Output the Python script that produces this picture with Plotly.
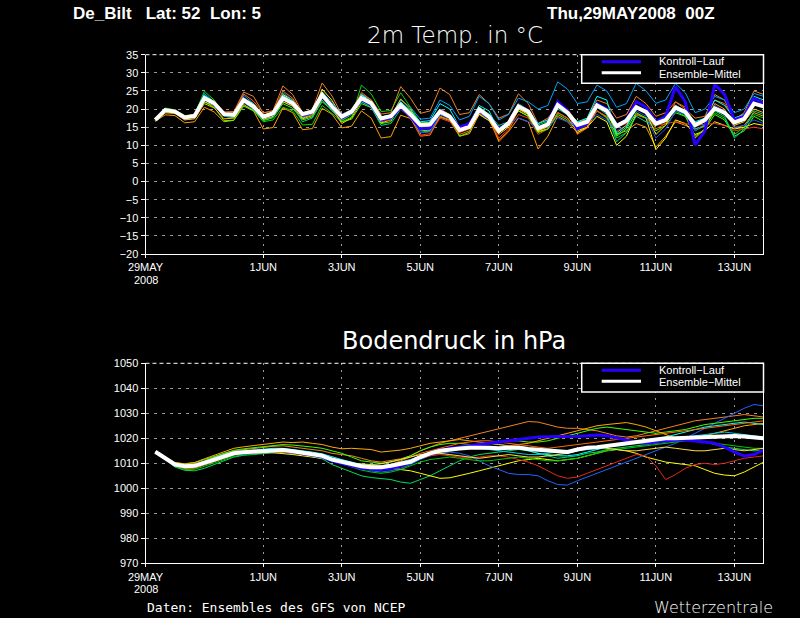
import pandas as pd
import plotly.graph_objects as go

W, H = 800, 618

# ---------------- data ----------------
times = pd.date_range("2008-05-29 06:00", periods=63, freq="6h")

tick_dates = ["2008-05-29", "2008-06-01", "2008-06-03", "2008-06-05", "2008-06-07",
              "2008-06-09", "2008-06-11", "2008-06-13"]
tick_text = ["29MAY", "1JUN", "3JUN", "5JUN", "7JUN", "9JUN", "11JUN", "13JUN"]
year_label = "2008"

temp_mean = [17.0, 19.7, 19.3,
             17.7, 18.1, 23.0, 21.6,
             18.6, 18.4, 22.5, 20.7,
             17.9, 18.8, 23.0, 21.6,
             18.6, 19.3, 23.9, 20.7,
             17.9, 19.3, 23.0, 21.6,
             17.4, 18.0, 21.1, 18.5,
             15.6, 15.8, 19.3, 17.9,
             14.2, 15.1, 19.9, 17.9,
             14.0, 16.1, 20.7, 19.3,
             14.7, 15.8, 21.1, 19.0,
             15.6, 16.5, 21.0, 19.5,
             15.3, 16.8, 20.5, 19.2,
             16.0, 17.0, 20.4, 19.2,
             15.6, 17.0, 20.2, 19.0,
             16.3, 17.3, 21.5, 20.7]

temp_control = [17.0, 19.6, 19.3,
                17.6, 18.0, 22.8, 21.4,
                18.4, 18.3, 22.3, 20.5,
                17.8, 18.6, 22.8, 21.4,
                18.4, 19.2, 23.6, 20.5,
                17.6, 19.0, 22.6, 21.2,
                17.0, 17.6, 20.5, 18.0,
                14.5, 14.8, 19.5, 18.0,
                15.0, 16.0, 20.0, 18.0,
                14.5, 16.0, 21.0, 19.5,
                15.0, 16.0, 22.0, 19.5,
                14.5, 16.0, 21.5, 20.0,
                15.5, 17.0, 22.0, 20.5,
                16.5, 18.0, 26.2, 22.0,
                10.1, 14.0, 26.8, 24.0,
                17.0, 18.0, 23.0, 21.5]

temp_m01 = [17.0, 20.3, 19.8, 18.2, 18.5, 24.9, 22.5, 18.0, 17.6, 21.0, 19.8,
            16.5, 17.0, 20.5, 19.5, 15.6, 15.8, 21.0, 18.8, 16.5, 17.8, 26.6, 24.2,
            19.3, 19.6, 24.5, 20.5, 16.2, 16.4, 19.0, 17.5, 14.0, 14.6, 18.5, 16.8,
            13.5, 15.5, 21.5, 19.8, 15.6, 16.6, 20.5, 19.0, 16.5, 17.0, 19.5, 17.5,
            12.0, 13.5, 18.5, 17.6, 16.4, 17.0, 19.5, 18.0, 14.0, 15.5, 19.0, 17.5,
            13.0, 15.0, 18.5, 17.5]
temp_m02 = [16.8, 19.4, 19.6, 18.0, 18.6, 22.8, 22.0, 19.2, 19.3, 24.7, 23.5,
            18.9, 19.6, 26.4, 24.0, 19.0, 19.8, 27.2, 23.6, 18.5, 19.8, 24.0, 22.6,
            18.6, 19.0, 26.2, 23.0, 18.8, 19.5, 25.8, 24.0, 18.5, 19.0, 24.0, 21.5,
            17.5, 18.6, 24.2, 21.5, 16.0, 17.5, 21.0, 20.0, 16.0, 17.5, 22.5, 21.5,
            17.5, 18.5, 23.5, 21.5, 18.0, 19.0, 22.0, 20.0, 17.5, 18.0, 24.0, 22.5,
            17.0, 19.0, 25.0, 24.0]
temp_m03 = [16.6, 18.4, 18.2, 16.2, 16.5, 20.5, 19.2, 16.5, 16.9, 21.3, 19.5,
            14.5, 14.9, 20.3, 19.0, 14.3, 14.6, 20.2, 18.6, 14.8, 15.3, 19.5, 17.5,
            12.0, 12.4, 18.3, 17.4, 13.5, 14.0, 17.8, 16.8, 12.5, 13.2, 18.6, 17.5,
            11.0, 13.8, 17.5, 16.5, 9.0, 12.5, 18.0, 16.5, 13.5, 14.8, 19.5, 17.8,
            13.0, 14.0, 16.0, 15.0, 9.5, 12.5, 16.5, 15.5, 14.5, 15.2, 21.5, 20.0,
            14.8, 15.5, 19.0, 18.0]
temp_m04 = [16.8, 19.0, 19.0, 17.5, 17.8, 22.0, 21.0, 18.2, 18.5, 23.0, 21.5,
            18.2, 19.3, 24.0, 22.5, 17.5, 18.6, 25.5, 22.4, 17.8, 19.5, 24.0, 22.0,
            16.2, 17.0, 21.5, 19.0, 15.0, 15.2, 18.5, 17.6, 14.6, 15.6, 20.5, 18.5,
            13.5, 15.5, 19.5, 18.0, 13.8, 14.5, 19.0, 17.5, 14.0, 15.0, 18.0, 16.5,
            10.0, 12.5, 18.5, 17.5, 8.8, 12.0, 17.0, 16.0, 13.0, 14.0, 16.5, 15.5,
            14.5, 15.0, 16.0, 15.5]
temp_m05 = [16.9, 19.6, 19.4, 17.8, 18.2, 23.5, 21.8, 18.8, 18.6, 22.8, 21.0,
            17.5, 18.5, 22.6, 21.0, 18.0, 19.0, 23.0, 20.0, 17.0, 18.8, 22.5, 21.0,
            16.5, 17.0, 20.5, 18.0, 12.8, 13.2, 17.5, 16.5, 13.5, 14.5, 19.0, 17.5,
            12.0, 14.5, 18.5, 17.5, 13.0, 14.5, 19.0, 17.5, 14.5, 15.5, 19.5, 18.0,
            15.0, 16.0, 18.5, 17.5, 15.5, 16.0, 16.5, 16.0, 15.5, 15.8, 16.0, 15.5,
            14.0, 14.5, 15.0, 14.5]
temp_m06 = [17.0, 19.9, 19.5, 17.8, 18.3, 24.3, 22.0, 18.5, 18.0, 23.8, 21.5,
            17.8, 18.6, 24.5, 22.5, 18.8, 19.5, 24.8, 21.8, 18.5, 19.8, 24.2, 22.4,
            17.8, 18.3, 22.5, 20.5, 17.2, 17.5, 22.5, 21.0, 17.0, 18.0, 23.5, 21.5,
            17.0, 18.5, 23.0, 22.0, 20.0, 21.0, 27.5, 25.5, 21.5, 22.0, 26.6, 25.0,
            20.5, 21.5, 27.1, 25.0, 21.6, 22.5, 27.1, 24.5, 19.0, 20.0, 23.5, 22.5,
            19.0, 20.0, 24.3, 23.5]
temp_m07 = [17.0, 20.0, 19.2, 17.2, 17.4, 22.0, 20.5, 16.8, 16.9, 20.8, 19.5,
            16.8, 17.6, 21.5, 20.2, 17.0, 17.8, 22.0, 19.8, 16.5, 17.2, 21.5, 20.4,
            16.0, 16.5, 21.8, 19.5, 14.0, 14.2, 19.5, 18.5, 12.5, 13.6, 19.5, 18.0,
            14.5, 16.5, 19.5, 18.0, 13.5, 14.5, 18.5, 17.0, 14.0, 15.8, 21.0, 19.8,
            12.5, 14.5, 19.0, 17.5, 14.0, 15.5, 19.0, 18.0, 12.5, 14.5, 18.5, 17.0,
            12.5, 14.0, 18.0, 16.5]
temp_m08 = [17.0, 19.5, 19.1, 17.4, 17.9, 23.8, 22.0, 18.0, 17.8, 21.8, 20.0,
            17.0, 17.8, 22.0, 20.8, 16.5, 17.5, 22.5, 19.5, 16.8, 18.5, 22.0, 20.5,
            15.5, 16.0, 20.0, 17.8, 13.5, 13.8, 18.0, 17.0, 15.0, 15.8, 20.5, 18.6,
            15.5, 16.5, 20.5, 18.8, 15.0, 15.5, 20.0, 18.5, 15.5, 16.5, 20.5, 18.5,
            11.0, 13.5, 18.0, 16.5, 15.5, 16.5, 20.0, 18.5, 14.5, 15.5, 19.5, 18.0,
            12.0, 14.5, 19.5, 18.5]
temp_m09 = [16.9, 19.8, 19.7, 18.0, 18.5, 23.5, 22.2, 19.0, 18.9, 24.2, 22.2,
            19.0, 19.4, 25.0, 23.0, 18.8, 19.5, 24.6, 21.2, 17.5, 19.2, 24.6, 22.5,
            17.0, 17.6, 20.0, 17.5, 12.5, 12.8, 18.0, 17.0, 13.0, 14.0, 19.0, 17.0,
            11.5, 14.0, 20.0, 18.5, 14.0, 15.0, 21.5, 19.5, 13.0, 14.8, 20.5, 19.0,
            15.0, 16.5, 21.0, 19.5, 14.5, 16.0, 22.0, 20.5, 15.0, 16.5, 22.5, 21.5,
            17.5, 18.5, 23.0, 22.0]
temp_m10 = [17.0, 19.3, 19.0, 17.0, 17.5, 22.5, 21.0, 18.3, 18.2, 23.2, 21.0,
            17.8, 18.6, 23.5, 22.0, 17.8, 18.5, 23.5, 20.4, 17.5, 18.8, 23.3, 21.5,
            16.8, 17.3, 21.0, 18.5, 13.5, 13.7, 18.5, 17.4, 14.5, 15.4, 19.0, 17.0,
            15.0, 16.0, 17.5, 16.5, 14.5, 15.0, 17.5, 16.5, 15.0, 16.0, 18.5, 17.0,
            14.0, 15.5, 19.5, 18.0, 12.0, 14.5, 19.5, 18.5, 14.0, 16.0, 21.0, 19.5,
            15.0, 15.5, 17.0, 16.0]
temp_m11 = [16.7, 19.0, 18.8, 17.0, 17.3, 21.5, 20.3, 17.3, 17.5, 22.0, 20.5,
            17.2, 18.0, 22.0, 20.8, 17.3, 18.2, 23.0, 20.3, 16.0, 17.6, 22.2, 21.0,
            17.2, 17.8, 22.8, 20.0, 15.5, 15.7, 20.0, 18.5, 14.0, 15.0, 18.5, 16.8,
            13.0, 15.0, 20.0, 18.5, 14.0, 15.2, 21.0, 19.0, 13.5, 15.0, 21.5, 20.0,
            13.5, 15.5, 20.5, 19.0, 13.0, 15.5, 21.0, 19.5, 12.0, 14.5, 20.0, 18.5,
            15.5, 16.5, 20.0, 19.0]
temp_m12 = [16.9, 19.7, 19.4, 17.6, 17.9, 23.7, 21.9, 18.4, 18.2, 22.0, 20.4,
            18.3, 19.0, 23.8, 22.0, 18.2, 19.1, 23.5, 20.5, 18.0, 19.5, 23.8, 22.0,
            17.8, 18.4, 22.0, 19.5, 16.5, 16.8, 21.5, 20.0, 15.0, 16.0, 21.0, 19.5,
            14.0, 16.0, 20.5, 19.5, 16.0, 17.0, 21.0, 19.5, 16.5, 17.5, 23.5, 22.5,
            13.0, 15.0, 20.5, 19.5, 16.0, 17.0, 21.0, 19.5, 16.5, 17.5, 22.5, 21.0,
            17.5, 18.5, 23.5, 22.5]

pres_mean = [1014.6, 1012.0, 1009.5, 1008.8, 1009.0, 1010.2, 1011.6, 1013.0, 1014.0, 1014.4,
             1014.7, 1015.0, 1015.3, 1015.3, 1014.8, 1014.3, 1013.6, 1013.0, 1011.5, 1010.6,
             1009.8, 1008.8, 1008.4, 1008.4, 1009.0, 1009.7, 1010.6, 1012.5, 1014.0, 1015.0,
             1015.6, 1015.9, 1016.2, 1016.4, 1016.2, 1016.0, 1016.2, 1016.3, 1015.7, 1015.4,
             1015.2, 1014.6, 1014.5, 1015.5, 1016.2, 1016.4, 1016.9, 1017.5, 1018.0, 1018.6,
             1019.2, 1019.6, 1020.0, 1020.0, 1020.2, 1020.5, 1020.6, 1020.6, 1020.8, 1020.9,
             1020.7, 1020.3, 1020.0]

pres_control = [1014.6, 1012.0, 1009.5, 1008.7, 1008.9, 1010.0, 1011.4, 1012.8, 1013.8, 1014.2,
                1014.5, 1014.8, 1015.0, 1015.0, 1014.5, 1014.0, 1013.2, 1012.5, 1011.0, 1010.0,
                1009.0, 1008.0, 1007.6, 1007.5, 1008.0, 1009.0, 1010.5, 1012.5, 1014.0, 1015.2,
                1016.0, 1016.5, 1017.0, 1017.5, 1018.0, 1018.5, 1019.0, 1019.5, 1020.0, 1020.5,
                1020.6, 1020.6, 1020.5, 1020.8, 1021.0, 1021.3, 1021.0, 1020.0, 1019.3, 1018.5,
                1018.0, 1018.5, 1019.0, 1019.3, 1019.3, 1019.0, 1018.5, 1018.0, 1016.5, 1014.6,
                1012.9, 1013.5, 1015.3]

pres_m01 = [1014.8, 1011.5, 1008.5, 1007.2, 1007.0, 1008.0, 1009.5, 1011.2, 1012.5, 1013.2,
            1013.6, 1014.0, 1014.3, 1014.5, 1014.0, 1013.5, 1012.6, 1011.8, 1009.5, 1008.0,
            1006.5, 1005.0, 1004.3, 1004.0, 1003.5, 1002.5, 1002.0, 1003.5, 1005.0, 1007.0,
            1009.0, 1011.0, 1012.5, 1013.5, 1014.0, 1014.5, 1015.0, 1015.5, 1015.0, 1014.0,
            1013.0, 1012.0, 1012.5, 1013.0, 1014.0, 1014.5, 1015.5, 1016.0, 1016.5, 1017.0,
            1017.5, 1018.0, 1018.5, 1019.0, 1019.5, 1019.0, 1018.5, 1017.5, 1016.5, 1016.0,
            1015.5, 1015.0, 1015.0]
pres_m02 = [1014.5, 1012.3, 1010.0, 1009.5, 1009.8, 1011.0, 1012.5, 1014.0, 1015.0, 1015.5,
            1016.0, 1016.4, 1016.8, 1017.0, 1016.5, 1016.0, 1015.4, 1015.0, 1014.0, 1013.5,
            1013.0, 1012.0, 1011.0, 1010.5, 1011.0, 1011.8, 1013.0, 1015.0, 1016.5, 1018.0,
            1019.0, 1020.0, 1021.0, 1022.0, 1023.0, 1024.0, 1025.0, 1026.0, 1026.7, 1026.5,
            1025.5, 1024.5, 1024.0, 1024.0, 1023.5, 1023.0, 1022.0, 1021.0, 1020.5, 1021.0,
            1022.0, 1023.0, 1024.0, 1025.0, 1026.0, 1027.0, 1027.5, 1028.0, 1028.5, 1029.0,
            1029.5, 1029.0, 1028.5]
pres_m03 = [1014.6, 1011.8, 1009.0, 1008.5, 1009.0, 1010.5, 1012.0, 1013.3, 1014.2, 1014.6,
            1014.8, 1014.6, 1014.3, 1014.0, 1013.5, 1013.0, 1012.5, 1012.0, 1011.0, 1010.5,
            1010.0, 1009.5, 1009.0, 1008.5, 1008.0, 1007.5, 1007.0, 1006.0, 1005.0, 1004.0,
            1004.2, 1005.0, 1006.0, 1007.0, 1008.0, 1009.0, 1010.0, 1011.0, 1011.5, 1012.0,
            1011.5, 1011.0, 1011.5, 1012.0, 1013.0, 1014.0, 1015.0, 1015.5, 1015.0, 1014.0,
            1012.5, 1011.5, 1010.5, 1010.0, 1009.5, 1009.0, 1007.5, 1006.0, 1005.3, 1005.0,
            1006.5, 1008.5, 1010.5]
pres_m04 = [1014.7, 1012.2, 1009.8, 1009.0, 1009.3, 1010.5, 1012.0, 1013.4, 1014.3, 1014.7,
            1015.0, 1015.2, 1015.5, 1015.5, 1015.0, 1014.5, 1013.8, 1013.0, 1011.8, 1010.8,
            1009.5, 1008.0, 1007.0, 1006.5, 1007.0, 1008.0, 1009.5, 1011.5, 1013.0, 1014.0,
            1014.5, 1014.0, 1013.0, 1011.0, 1009.0, 1007.5, 1006.0, 1005.5, 1005.5, 1005.0,
            1003.0, 1001.5, 1001.3, 1003.0, 1004.5, 1006.0, 1007.5, 1009.0, 1010.5, 1012.0,
            1013.5, 1015.0, 1016.5, 1018.0, 1020.0, 1022.0, 1024.0, 1026.0, 1028.0, 1030.0,
            1032.0, 1033.5, 1033.0]
pres_m05 = [1014.5, 1011.9, 1009.2, 1008.0, 1008.2, 1009.5, 1011.0, 1012.5, 1013.5, 1014.0,
            1014.3, 1014.6, 1014.8, 1014.8, 1014.3, 1013.8, 1013.0, 1012.3, 1011.0, 1010.0,
            1009.3, 1008.5, 1008.0, 1008.0, 1008.5, 1009.5, 1010.5, 1012.0, 1013.0, 1013.5,
            1013.0, 1012.5, 1012.0, 1012.5, 1013.0, 1013.0, 1012.5, 1011.5, 1010.5, 1009.0,
            1007.0, 1005.0, 1004.0, 1004.5, 1006.0, 1007.5, 1009.0, 1010.5, 1012.0, 1013.5,
            1013.0, 1009.0, 1003.5, 1005.5, 1008.0, 1009.5, 1010.0, 1009.5, 1010.0, 1011.0,
            1012.0, 1012.5, 1013.0]
pres_m06 = [1014.6, 1012.1, 1009.6, 1009.0, 1009.5, 1010.8, 1012.2, 1013.6, 1014.6, 1015.0,
            1015.4, 1015.8, 1016.0, 1016.0, 1015.6, 1015.0, 1014.5, 1013.8, 1012.5, 1011.5,
            1010.5, 1009.5, 1009.0, 1009.0, 1009.6, 1010.5, 1011.5, 1013.0, 1014.5, 1015.5,
            1016.0, 1016.5, 1017.0, 1017.5, 1018.0, 1017.5, 1017.0, 1016.0, 1015.0, 1014.0,
            1013.5, 1013.0, 1013.0, 1013.5, 1014.5, 1015.5, 1016.5, 1017.5, 1018.0, 1018.5,
            1019.0, 1019.5, 1020.5, 1021.5, 1022.5, 1023.5, 1024.5, 1025.0, 1025.5, 1026.0,
            1026.5, 1026.0, 1025.5]
pres_m07 = [1014.7, 1012.5, 1010.2, 1009.8, 1010.3, 1011.5, 1012.8, 1014.2, 1015.2, 1015.8,
            1016.3, 1016.8, 1017.3, 1017.5, 1017.3, 1017.0, 1016.5, 1016.0, 1015.0, 1014.0,
            1012.5, 1011.0, 1010.5, 1010.0, 1010.5, 1011.5, 1013.0, 1015.0, 1016.5, 1017.5,
            1018.0, 1018.0, 1017.5, 1017.5, 1018.0, 1018.5, 1019.0, 1019.0, 1018.5, 1018.5,
            1019.0, 1020.0, 1021.0, 1022.0, 1023.0, 1024.0, 1024.5, 1024.0, 1023.5, 1023.0,
            1022.5, 1022.0, 1022.5, 1023.0, 1023.5, 1024.5, 1025.5, 1026.0, 1026.5, 1027.0,
            1027.5, 1028.0, 1028.0]
pres_m08 = [1014.6, 1012.4, 1010.3, 1009.8, 1010.3, 1011.8, 1013.3, 1014.8, 1016.0, 1016.6,
            1017.0, 1017.5, 1018.0, 1018.5, 1018.3, 1018.5, 1018.0, 1017.5, 1016.5, 1015.8,
            1016.0, 1015.8, 1015.5, 1014.5, 1014.8, 1015.3, 1016.0, 1017.0, 1018.0, 1018.5,
            1019.0, 1019.5, 1019.0, 1018.5, 1018.0, 1017.5, 1017.0, 1017.5, 1018.0, 1019.0,
            1020.0, 1021.0, 1022.0, 1023.0, 1024.0, 1025.0, 1025.5, 1026.0, 1026.3, 1025.5,
            1024.5, 1023.0, 1021.5, 1020.0, 1019.5, 1020.0, 1021.0, 1022.0, 1023.0, 1024.0,
            1025.0, 1025.5, 1026.0]
pres_m09 = [1014.5, 1011.7, 1009.0, 1008.0, 1008.0, 1009.3, 1010.7, 1012.2, 1013.3, 1013.8,
            1014.0, 1014.3, 1014.5, 1014.5, 1014.0, 1013.6, 1013.0, 1012.5, 1011.2, 1010.0,
            1009.0, 1008.5, 1008.0, 1008.5, 1009.5, 1011.0, 1012.5, 1014.0, 1015.0, 1016.0,
            1017.0, 1018.0, 1018.5, 1019.0, 1019.0, 1018.5, 1018.0, 1017.5, 1017.0, 1016.5,
            1016.0, 1016.5, 1017.0, 1017.5, 1018.0, 1018.5, 1019.0, 1019.5, 1020.0, 1020.5,
            1021.0, 1021.5, 1022.0, 1022.5, 1023.0, 1023.5, 1024.0, 1024.5, 1025.0, 1025.5,
            1026.0, 1026.5, 1027.0]
pres_m10 = [1014.6, 1011.6, 1008.8, 1007.5, 1007.6, 1008.8, 1010.2, 1011.7, 1012.8, 1013.4,
            1013.8, 1014.2, 1014.6, 1014.8, 1014.5, 1014.0, 1013.3, 1012.6, 1011.0, 1009.8,
            1008.5, 1007.3, 1006.5, 1006.0, 1006.5, 1007.5, 1009.0, 1010.5, 1011.5, 1012.0,
            1012.5, 1012.0, 1011.5, 1011.0, 1011.0, 1011.5, 1012.0, 1012.5, 1012.0, 1011.5,
            1011.0, 1011.0, 1011.5, 1012.0, 1013.0, 1014.0, 1015.0, 1015.5, 1016.0, 1016.5,
            1017.0, 1017.5, 1018.0, 1018.5, 1019.0, 1019.0, 1018.5, 1018.0, 1017.5, 1017.0,
            1016.5, 1016.0, 1016.0]
pres_m11 = [1014.6, 1012.0, 1009.4, 1008.8, 1009.0, 1010.0, 1011.5, 1012.8, 1013.7, 1014.2,
            1014.5, 1014.8, 1015.0, 1015.0, 1014.4, 1013.8, 1013.0, 1012.2, 1011.0, 1010.3,
            1010.0, 1009.8, 1009.5, 1009.8, 1010.5, 1011.5, 1012.5, 1013.5, 1014.0, 1014.0,
            1013.5, 1013.0, 1012.5, 1012.0, 1012.5, 1013.0, 1013.5, 1013.0, 1012.5, 1012.5,
            1013.0, 1013.5, 1014.0, 1015.0, 1016.0, 1016.5, 1016.0, 1015.5, 1015.0, 1015.0,
            1015.5, 1016.0, 1016.5, 1016.0, 1015.5, 1015.0, 1015.0, 1015.5, 1016.0, 1015.5,
            1015.0, 1015.5, 1016.0]
pres_m12 = [1014.6, 1012.2, 1009.8, 1009.2, 1009.5, 1010.7, 1012.0, 1013.3, 1014.2, 1014.7,
            1015.0, 1015.3, 1015.6, 1015.6, 1015.0, 1014.6, 1014.0, 1013.4, 1012.0, 1011.0,
            1010.0, 1009.0, 1008.5, 1008.3, 1008.8, 1009.5, 1010.5, 1012.0, 1013.5, 1014.5,
            1015.5, 1016.0, 1016.5, 1016.0, 1015.5, 1015.0, 1014.5, 1014.0, 1013.5, 1013.5,
            1014.0, 1014.5, 1015.0, 1015.0, 1015.5, 1016.0, 1016.5, 1017.0, 1017.5, 1018.0,
            1018.5, 1019.0, 1019.5, 1020.0, 1020.5, 1021.0, 1021.5, 1022.0, 1022.5, 1022.0,
            1021.5, 1021.0, 1020.5]

temp_members = [temp_m01, temp_m02, temp_m03, temp_m04, temp_m05, temp_m06,
                temp_m07, temp_m08, temp_m09, temp_m10, temp_m11, temp_m12]
pres_members = [pres_m01, pres_m02, pres_m03, pres_m04, pres_m05, pres_m06,
                pres_m07, pres_m08, pres_m09, pres_m10, pres_m11, pres_m12]

temp_colors = ["#00dc00", "#f08228", "#ffa000", "#ffff00", "#f03c1e", "#00a0ff",
               "#40ff00", "#00d28c", "#ff6a00", "#1e50ff", "#ffc800", "#00ffff"]
pres_colors = ["#00dc64", "#f08228", "#ffff00", "#1e64ff", "#e62814", "#00ffff",
               "#40ff00", "#ffaa00", "#ff6a00", "#00c800", "#ffe040", "#00c8dc"]

# ---------------- helpers for layout positions (pixels -> paper) ----------------
def px(x):
    return x / W

def py(y):
    return 1 - y / H

X0, X1 = 145.5, 763.0
TOP1, BOT1 = 54.7, 254.0
TOP2, BOT2 = 363.3, 563.3

fig = go.Figure()

for vals, col in zip(temp_members, temp_colors):
    fig.add_trace(go.Scatter(x=times, y=vals, mode="lines", line=dict(color=col, width=1),
                             xaxis="x", yaxis="y", showlegend=False, hoverinfo="skip"))
fig.add_trace(go.Scatter(x=times, y=temp_control, mode="lines", line=dict(color="#2800ff", width=3),
                         xaxis="x", yaxis="y", showlegend=False))
fig.add_trace(go.Scatter(x=times, y=temp_mean, mode="lines", line=dict(color="#ffffff", width=4),
                         xaxis="x", yaxis="y", showlegend=False))

for vals, col in zip(pres_members, pres_colors):
    fig.add_trace(go.Scatter(x=times, y=vals, mode="lines", line=dict(color=col, width=1),
                             xaxis="x2", yaxis="y2", showlegend=False, hoverinfo="skip"))
fig.add_trace(go.Scatter(x=times, y=pres_control, mode="lines", line=dict(color="#2800ff", width=3),
                         xaxis="x2", yaxis="y2", showlegend=False))
fig.add_trace(go.Scatter(x=times, y=pres_mean, mode="lines", line=dict(color="#ffffff", width=4),
                         xaxis="x2", yaxis="y2", showlegend=False))

tickfont = dict(family="Liberation Sans", size=11, color="white")
xcommon = dict(range=["2008-05-29 00:00", "2008-06-13 17:30"], tickmode="array",
               tickvals=tick_dates, ticktext=tick_text, showgrid=True, gridcolor="#9a9a9a",
               griddash="2px,5px", gridwidth=1, showline=True, linecolor="white", linewidth=1,
               ticks="outside", ticklen=3, tickcolor="white", tickfont=tickfont,
               zeroline=False, automargin=False, domain=[px(X0), px(X1)])
ycommon = dict(showgrid=True, gridcolor="#9a9a9a", griddash="3px,5px", gridwidth=1,
               showline=True, linecolor="white", linewidth=1, mirror=True, automargin=False,
               ticks="outside", ticklen=4, tickcolor="white", tickfont=tickfont, zeroline=False)

fig.update_layout(
    width=W, height=H, margin=dict(l=0, r=0, t=0, b=0, autoexpand=False),
    paper_bgcolor="black", plot_bgcolor="black", showlegend=False,
    xaxis=dict(**xcommon, anchor="y"),
    yaxis=dict(**ycommon, range=[-20, 35], dtick=5, tick0=-20,
               domain=[py(BOT1), py(TOP1)], anchor="x"),
    xaxis2=dict(**xcommon, anchor="y2"),
    yaxis2=dict(**ycommon, range=[970, 1050], dtick=10, tick0=970,
                domain=[py(BOT2), py(TOP2)], anchor="x2"),
)

shapes = []
annotations = []
# dashed white top borders
for top in (TOP1, TOP2):
    shapes.append(dict(type="line", xref="paper", yref="paper", x0=px(X0), x1=px(X1),
                       y0=py(top), y1=py(top), line=dict(color="white", width=1, dash="4px,3px")))

# year under the first date label of each panel
for bot in (BOT1, BOT2):
    annotations.append(dict(text=year_label, xref="paper", yref="paper", x=px(X0),
                            y=py(bot + 26), xanchor="center", yanchor="middle",
                            showarrow=False, font=tickfont))

# legend boxes
legfont = dict(family="Liberation Sans", size=11, color="white")
for top in (TOP1, TOP2):
    shapes.append(dict(type="rect", xref="paper", yref="paper", x0=px(581.7), x1=px(763.5),
                       y0=py(top + 28.6), y1=py(top), fillcolor="black",
                       line=dict(color="white", width=1.5)))
    shapes.append(dict(type="line", xref="paper", yref="paper", x0=px(601.7), x1=px(641),
                       y0=py(top + 7), y1=py(top + 7), line=dict(color="#2800ff", width=3)))
    shapes.append(dict(type="line", xref="paper", yref="paper", x0=px(601.7), x1=px(641),
                       y0=py(top + 18), y1=py(top + 18), line=dict(color="white", width=3)))
    annotations.append(dict(text="Kontroll\u2212Lauf", xref="paper", yref="paper",
                            x=px(657), y=py(top + 6.5), xanchor="left", yanchor="middle",
                            showarrow=False, font=legfont))
    annotations.append(dict(text="Ensemble\u2212Mittel", xref="paper", yref="paper",
                            x=px(657), y=py(top + 19), xanchor="left", yanchor="middle",
                            showarrow=False, font=legfont))

annotations += [
    dict(text="De_Bilt   Lat: 52  Lon: 5", xref="paper", yref="paper", x=px(71), y=py(13),
         xanchor="left", yanchor="middle", showarrow=False,
         font=dict(family="Liberation Sans", size=17, color="white", weight="bold")),
    dict(text="Thu,29MAY2008  00Z", xref="paper", yref="paper", x=px(545), y=py(13),
         xanchor="left", yanchor="middle", showarrow=False,
         font=dict(family="Liberation Sans", size=17, color="white", weight="bold")),
    dict(text="2m Temp. in °C", xref="paper", yref="paper", x=px(455), y=py(35),
         xanchor="center", yanchor="middle", showarrow=False,
         font=dict(family="DejaVu Sans", size=23, color="white", weight=200)),
    dict(text="Bodendruck in hPa", xref="paper", yref="paper", x=px(454), y=py(341),
         xanchor="center", yanchor="middle", showarrow=False,
         font=dict(family="DejaVu Sans", size=24, color="white")),
    dict(text="Daten: Ensembles des GFS von NCEP", xref="paper", yref="paper", x=px(145), y=py(607),
         xanchor="left", yanchor="middle", showarrow=False,
         font=dict(family="DejaVu Sans Mono", size=13, color="white")),
    dict(text="Wetterzentrale", xref="paper", yref="paper", x=px(775), y=py(607),
         xanchor="right", yanchor="middle", showarrow=False,
         font=dict(family="DejaVu Sans", size=16, color="white", weight=200)),
]

fig.update_layout(shapes=shapes, annotations=annotations)
fig.write_html("out.html", config={"displayModeBar": False},
               post_script="document.body.style.margin='0';document.body.style.background='black';")
